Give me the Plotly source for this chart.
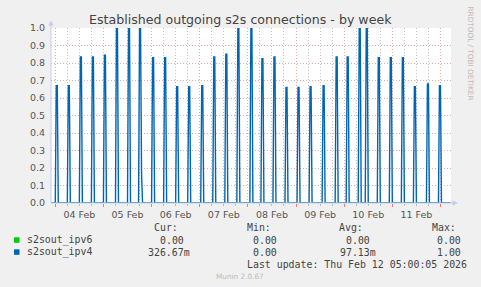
import pandas as pd
import plotly.graph_objects as go

# ---------------- data ----------------
spike_times = [
    "2026-02-04 00:30", "2026-02-04 06:30", "2026-02-04 12:30", "2026-02-04 18:30",
    "2026-02-05 00:30", "2026-02-05 06:30", "2026-02-05 12:30", "2026-02-05 18:00",
    "2026-02-06 00:30", "2026-02-06 06:30", "2026-02-06 12:30", "2026-02-06 18:30",
    "2026-02-07 01:00", "2026-02-07 07:00", "2026-02-07 13:00", "2026-02-07 19:00",
    "2026-02-08 01:30", "2026-02-08 07:00", "2026-02-08 13:00", "2026-02-08 19:00",
    "2026-02-09 01:00", "2026-02-09 07:00", "2026-02-09 13:30", "2026-02-09 20:00",
    "2026-02-10 01:30", "2026-02-10 07:30", "2026-02-10 11:00", "2026-02-10 17:00",
    "2026-02-10 23:00", "2026-02-11 05:00", "2026-02-11 11:00", "2026-02-11 17:30",
    "2026-02-11 23:30",
]
spike_peaks = [
    0.67, 0.67, 0.835, 0.835,
    0.845, 1.0, 1.0, 1.0,
    0.83, 0.83, 0.665, 0.665,
    0.67, 0.835, 0.85, 1.0,
    1.0, 0.825, 0.835, 0.66,
    0.66, 0.665, 0.67, 0.835,
    0.835, 1.0, 1.0, 0.83,
    0.83, 0.83, 0.665, 0.68,
    0.67,
]
tail_times = ["2026-02-05 19:00"]
tail_values = [0.17]

y_ticks = [0.0, 0.1, 0.2, 0.3, 0.4, 0.5, 0.6, 0.7, 0.8, 0.9, 1.0]

series_names = ["s2sout_ipv6", "s2sout_ipv4"]
series_colors = ["#00CC00", "#0066B3"]
legend_headers = ["Cur:", "Min:", "Avg:", "Max:"]
legend_cur = ["0.00\u00a0", "326.67m"]
legend_min = ["0.00\u00a0", "0.00\u00a0"]
legend_avg = ["0.00\u00a0", "97.13m"]
legend_max = ["0.00\u00a0", "1.00\u00a0"]
title_text = "Established outgoing s2s connections - by week"
last_update = "Last update: Thu Feb 12 05:00:05 2026"
footer = "Munin 2.0.67"
side_text = "RRDTOOL / TOBI OETIKER"

# ---------------- series ----------------
times = pd.date_range("2026-02-03 22:00", "2026-02-12 05:00", freq="30min")
ipv6 = pd.Series(0.0, index=times)
ipv4 = pd.Series(0.0, index=times)
for t, p in zip(spike_times, spike_peaks):
    t = pd.Timestamp(t)
    ipv4[t] = p
    ipv4[t + pd.Timedelta("30min")] = p
for t, v in zip(tail_times, tail_values):
    ipv4[pd.Timestamp(t)] = v

# ---------------- geometry helpers (pixels -> paper) ----------------
W, H = 481, 287
L, R, T, B = 51, 451, 28, 203
def px(x):
    return (x - L) / (R - L)
def py(y):
    return (B - y) / (B - T)

fig = go.Figure()
fig.add_trace(go.Scatter(x=ipv6.index, y=ipv6.values, mode="lines",
                         line=dict(color=series_colors[0], width=1), hoverinfo="skip"))
fig.add_trace(go.Scatter(x=ipv4.index, y=ipv4.values, mode="lines",
                         line=dict(color=series_colors[1], width=1.4), hoverinfo="skip"))

grid_dash = "1px,2px"
pink = "rgba(225,110,110,0.6)"
gray = "rgba(150,150,150,0.6)"
axis_col = "#C4CCF0"
sans = "DejaVu Sans"
mono = "DejaVu Sans Mono"

fig.update_layout(
    width=W, height=H,
    margin=dict(l=L, r=W - R, t=T, b=H - B),
    paper_bgcolor="#F0F0F0", plot_bgcolor="#FFFFFF",
    showlegend=False,
    xaxis=dict(
        type="date",
        range=["2026-02-03 21:52", "2026-02-12 05:15"],
        tick0="2026-02-04", dtick=86400000,
        tickformat="%d %b", ticklabelmode="period",
        showgrid=True, gridcolor=pink, griddash=grid_dash, gridwidth=1,
        ticks="outside", ticklen=3, tickcolor="rgba(255,60,60,0.7)",
        minor=dict(dtick=21600000, showgrid=True, gridcolor=gray, griddash=grid_dash,
                   ticks="outside", ticklen=2, tickcolor="rgba(150,150,150,0.6)"),
        showline=False, zeroline=False,
        tickfont=dict(family=sans, size=9.5, color="#555555"),
        fixedrange=True,
    ),
    yaxis=dict(
        range=[0, 1], tickvals=y_ticks, tickformat=".1f",
        showgrid=True, gridcolor=pink, griddash=grid_dash, gridwidth=1,
        zeroline=False, showline=False, ticks="",
        ticklabelstandoff=5,
        tickfont=dict(family=sans, size=9.5, color="#555555"),
        fixedrange=True,
    ),
)

shapes = []
# axes with arrows
shapes.append(dict(type="line", xref="paper", yref="paper",
                   x0=px(51), x1=px(453), y0=py(203), y1=py(203),
                   line=dict(color=axis_col, width=1)))
shapes.append(dict(type="line", xref="paper", yref="paper",
                   x0=px(51), x1=px(51), y0=py(203), y1=py(25),
                   line=dict(color=axis_col, width=1)))
shapes.append(dict(type="path", xref="paper", yref="paper",
                   path=f"M {px(48.3)} {py(25.5)} L {px(53.7)} {py(25.5)} L {px(51)} {py(20.5)} Z",
                   fillcolor=axis_col, line=dict(width=0)))
shapes.append(dict(type="path", xref="paper", yref="paper",
                   path=f"M {px(452.5)} {py(200.3)} L {px(452.5)} {py(205.7)} L {px(458)} {py(203)} Z",
                   fillcolor=axis_col, line=dict(width=0)))
# legend colour boxes
for i, c in enumerate(series_colors):
    y0 = 237.3 + 12 * i
    shapes.append(dict(type="rect", xref="paper", yref="paper",
                       x0=px(14), x1=px(19.5), y0=py(y0), y1=py(y0 + 5.5),
                       fillcolor=c, line=dict(width=0)))
fig.update_layout(shapes=shapes)

ann = []
def text(x, y, s, anchor="left", family=sans, size=9.9, color="#444444", angle=0):
    ann.append(dict(xref="paper", yref="paper", x=px(x), y=py(y), text=s,
                    xanchor=anchor, yanchor="middle", showarrow=False,
                    borderpad=0, borderwidth=0, textangle=angle,
                    font=dict(family=family, size=size, color=color)))

text(240.5, 19, title_text, anchor="center", size=12.6, color="#444444")
text(470.5, 53, side_text, anchor="center", size=7.3, color="#BBBBBB", angle=90)

header_x = [154.3, 246.7, 339.0, 431.7]
for hx, h in zip(header_x, legend_headers):
    text(hx, 227, h, family=mono)
col_right = [190.0, 282.7, 375.7, 466.7]
for i, name in enumerate(series_names):
    yy = 240 + 12 * i
    text(26.7, yy, name, family=mono)
    for cr, col in zip(col_right, [legend_cur, legend_min, legend_avg, legend_max]):
        text(cr, yy, col[i], anchor="right", family=mono)
text(466.7, 264, last_update, anchor="right", family=mono)
text(240, 276, footer, anchor="center", size=7.3, color="#BBBBBB")
fig.update_layout(annotations=ann)

fig.write_html("out.html")
